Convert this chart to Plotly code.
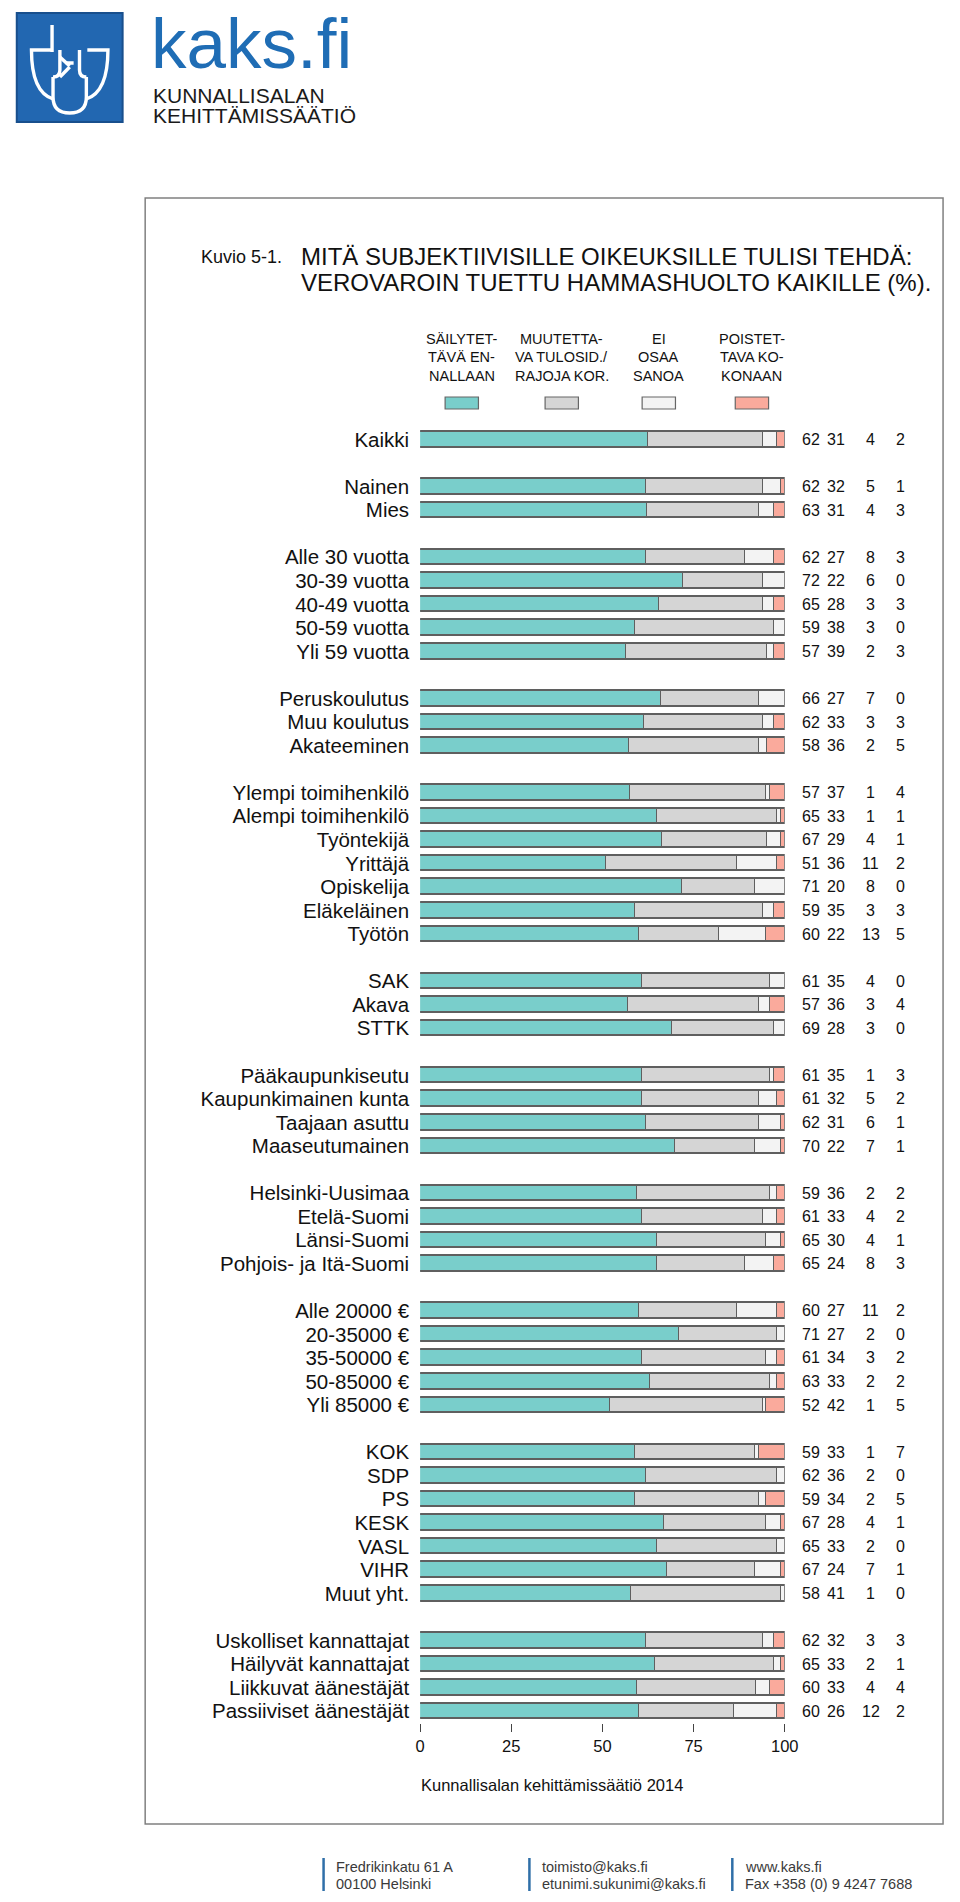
import plotly.graph_objects as go

# ---------------- data ----------------
labels = [
    "Kaikki",
    "Nainen", "Mies",
    "Alle 30 vuotta", "30-39 vuotta", "40-49 vuotta", "50-59 vuotta", "Yli 59 vuotta",
    "Peruskoulutus", "Muu koulutus", "Akateeminen",
    "Ylempi toimihenkilö", "Alempi toimihenkilö", "Työntekijä", "Yrittäjä", "Opiskelija", "Eläkeläinen", "Työtön",
    "SAK", "Akava", "STTK",
    "Pääkaupunkiseutu", "Kaupunkimainen kunta", "Taajaan asuttu", "Maaseutumainen",
    "Helsinki-Uusimaa", "Etelä-Suomi", "Länsi-Suomi", "Pohjois- ja Itä-Suomi",
    "Alle 20000 €", "20-35000 €", "35-50000 €", "50-85000 €", "Yli 85000 €",
    "KOK", "SDP", "PS", "KESK", "VASL", "VIHR", "Muut yht.",
    "Uskolliset kannattajat", "Häilyvät kannattajat", "Liikkuvat äänestäjät", "Passiiviset äänestäjät",
]
group_sizes = [1, 2, 5, 3, 7, 3, 4, 4, 5, 7, 4]

sailytettava = [62, 62, 63, 62, 72, 65, 59, 57, 66, 62, 58, 57, 65, 67, 51, 71, 59, 60, 61, 57, 69,
                61, 61, 62, 70, 59, 61, 65, 65, 60, 71, 61, 63, 52, 59, 62, 59, 67, 65, 67, 58,
                62, 65, 60, 60]
muutettava = [31, 32, 31, 27, 22, 28, 38, 39, 27, 33, 36, 37, 33, 29, 36, 20, 35, 22, 35, 36, 28,
              35, 32, 31, 22, 36, 33, 30, 24, 27, 27, 34, 33, 42, 33, 36, 34, 28, 33, 24, 41,
              32, 33, 33, 26]
ei_osaa = [4, 5, 4, 8, 6, 3, 3, 2, 7, 3, 2, 1, 1, 4, 11, 8, 3, 13, 4, 3, 3,
           1, 5, 6, 7, 2, 4, 4, 8, 11, 2, 3, 2, 1, 1, 2, 2, 4, 2, 7, 1,
           3, 2, 4, 12]
poistettava = [2, 1, 3, 3, 0, 3, 0, 3, 0, 3, 5, 4, 1, 1, 2, 0, 3, 5, 0, 4, 0,
               3, 2, 1, 1, 2, 2, 1, 3, 2, 0, 2, 2, 5, 7, 0, 5, 1, 0, 1, 0,
               3, 1, 4, 2]

series_names = ["SÄILYTET-<br>TÄVÄ EN-<br>NALLAAN", "MUUTETTA-<br>VA TULOSID./<br>RAJOJA KOR.",
                "EI<br>OSAA<br>SANOA", "POISTET-<br>TAVA KO-<br>KONAAN"]
series_colors = ["#79CECB", "#D5D5D5", "#F3F3F3", "#FAAA9C"]
x_ticks = [0, 25, 50, 75, 100]

# ---------------- helpers ----------------
W, H = 960, 1902
def fx(x): return x / W
def fy(y): return 1 - y / H

def path(cmds):
    out = []
    for c, pts in cmds:
        s = c
        for (a, b) in pts:
            s += " %.5f,%.5f" % (fx(a), fy(b))
        out.append(s)
    return " ".join(out)

# row positions with a blank slot between groups
positions = []
pos = 0
for g in group_sizes:
    for _ in range(g):
        positions.append(pos)
        pos += 1
    pos += 1
n_slots = positions[-1] + 1

series = [sailytettava, muutettava, ei_osaa, poistettava]
totals = [sum(v) for v in zip(*series)]

fig = go.Figure()
for name, vals, col in zip(series_names, series, series_colors):
    xs = [(v * 100.0 / t) if v > 0 else None for v, t in zip(vals, totals)]
    fig.add_trace(go.Bar(
        x=xs, y=positions, orientation="h", width=0.66,
        marker=dict(color=col, line=dict(color="#5f5f5f", width=1.3)),
        name=name.replace("<br>", " "), showlegend=False, hoverinfo="x+y",
    ))

# plot area in pixels
X0, X1 = 423.5, 795.5
ROW0, ROWSTEP = 439.5, 23.55
ytop = ROW0 - ROWSTEP / 2
ybot = ROW0 + (n_slots - 1) * ROWSTEP + ROWSTEP / 2

fig.update_layout(
    width=W, height=H, autosize=False,
    margin=dict(l=0, r=0, t=0, b=0),
    paper_bgcolor="white", plot_bgcolor="white",
    barmode="stack", bargap=0,
    font=dict(family="Liberation Sans, Arial, sans-serif", color="#111"),
    xaxis=dict(domain=[fx(X0), fx(X1)], range=[0, 100], tickvals=x_ticks,
               ticks="outside", ticklen=8, tickwidth=1.3, tickcolor="#444",
               showgrid=False, zeroline=False, showline=False,
               tickfont=dict(size=16.5, color="#111"), fixedrange=True),
    yaxis=dict(domain=[fy(ybot), fy(ytop)], range=[n_slots - 0.5, -0.5],
               tickvals=positions, ticktext=labels, ticks="",
               showgrid=False, zeroline=False, showline=False,
               tickfont=dict(size=20.5, color="#111"), ticklabelstandoff=10,
               fixedrange=True),
)

shapes = []
ann = []

# frame
shapes.append(dict(type="rect", xref="paper", yref="paper",
                   x0=fx(143), x1=fx(957), y0=fy(1824), y1=fy(198),
                   line=dict(color="#808080", width=1.5), fillcolor="rgba(0,0,0,0)", layer="below"))

# title
ann.append(dict(text="Kuvio 5-1.", x=fx(198), y=fy(257), xanchor="left", yanchor="middle",
                font=dict(size=18, color="#111")))
ann.append(dict(text="MITÄ SUBJEKTIIVISILLE OIKEUKSILLE TULISI TEHDÄ:", x=fx(300), y=fy(256),
                xanchor="left", yanchor="middle", font=dict(size=24, color="#111")))
ann.append(dict(text="VEROVAROIN TUETTU HAMMASHUOLTO KAIKILLE (%).", x=fx(300), y=fy(283),
                xanchor="left", yanchor="middle", font=dict(size=24, color="#111")))

# legend (drawn manually)
leg_cx = [466, 568, 667, 762]
for cx, name, col in zip(leg_cx, series_names, series_colors):
    for li, line in enumerate(name.split("<br>")):
        ann.append(dict(text=line, x=fx(cx), y=fy(339 + 18.5 * li), xanchor="center", yanchor="middle",
                        font=dict(size=14.5, color="#111")))
    shapes.append(dict(type="rect", xref="paper", yref="paper",
                       x0=fx(cx - 17), x1=fx(cx + 17), y0=fy(409), y1=fy(397),
                       fillcolor=col, line=dict(color="#666", width=1.2)))

# numbers at right
num_cx = [822, 848, 883, 914]
for vals, cx in zip(series, num_cx):
    for p, v in zip(positions, vals):
        ann.append(dict(text=str(v), x=fx(cx), y=p, yref="y", xanchor="center", yanchor="middle",
                        font=dict(size=16, color="#111")))

# source
ann.append(dict(text="Kunnallisalan kehittämissäätiö 2014", x=fx(558), y=fy(1785),
                xanchor="center", yanchor="middle", font=dict(size=16.5, color="#111")))

# logo
shapes.append(dict(type="rect", xref="paper", yref="paper", x0=fx(12), x1=fx(120), y0=fy(122), y1=fy(13),
                   fillcolor="#2267B1", line=dict(color="#184F8D", width=2)))
white = dict(color="white", width=3.4)
for cmds in [
    [("M", [(48, 52)]), ("L", [(48, 25), (84, 25), (84, 52)])],
    [("M", [(48, 50)]), ("L", [(27, 50), (27, 75)]), ("Q", [(27, 92), (49, 99)])],
    [("M", [(84, 50)]), ("L", [(105, 50), (105, 75)]), ("Q", [(105, 92), (83, 99)])],
    [("M", [(49, 77)]), ("L", [(49, 97)]), ("Q", [(49, 113), (66, 113)]), ("Q", [(83, 113), (83, 97)]), ("L", [(83, 77)])],
    [("M", [(56, 50)]), ("L", [(56, 70)]), ("Q", [(56, 77), (49, 77)])],
    [("M", [(76, 50)]), ("L", [(76, 70)]), ("Q", [(76, 77), (83, 77)])],
    [("M", [(56, 57)]), ("L", [(66, 66), (76, 57)])],
    [("M", [(56, 77)]), ("L", [(66, 67), (76, 77)])],
    [("M", [(62, 63)]), ("L", [(70, 63), (70, 71), (62, 71)]), ("Z", [])],
]:
    shapes.append(dict(type="path", xref="paper", yref="paper", path=path(cmds), line=white))

ann.append(dict(text="kaks.fi", x=fx(147), y=fy(43.5), xanchor="left", yanchor="middle",
                font=dict(size=71, color="#1F6DB5")))
ann.append(dict(text="KUNNALLISALAN", x=fx(149), y=fy(95), xanchor="left", yanchor="middle",
                font=dict(size=21, color="#1a1a1a")))
ann.append(dict(text="KEHITTÄMISSÄÄTIÖ", x=fx(149), y=fy(115.5), xanchor="left", yanchor="middle",
                font=dict(size=21, color="#1a1a1a")))

# footer
footer = [("Fredrikinkatu 61 A", "00100 Helsinki"),
          ("toimisto@kaks.fi", "etunimi.sukunimi@kaks.fi"),
          ("www.kaks.fi", "Fax +358 (0) 9 4247 7688")]
for bx, (l1, l2) in zip([325, 535, 742], footer):
    shapes.append(dict(type="line", xref="paper", yref="paper", x0=fx(bx), x1=fx(bx), y0=fy(1858), y1=fy(1891),
                       line=dict(color="#2F6FA8", width=2.5)))
    for li, t in enumerate([l1, l2]):
        ann.append(dict(text=t, x=fx(bx + 11), y=fy(1867 + 17 * li), xanchor="left", yanchor="middle",
                        font=dict(size=14.5, color="#3a3a3a")))

for a in ann:
    a.setdefault("xref", "paper")
    a.setdefault("yref", "paper")
    a["showarrow"] = False
fig.update_layout(shapes=shapes, annotations=ann)

fig.write_html("out.html", config={"displayModeBar": False, "responsive": False},
               post_script="document.body.style.margin='0px';document.body.style.overflow='hidden';")
